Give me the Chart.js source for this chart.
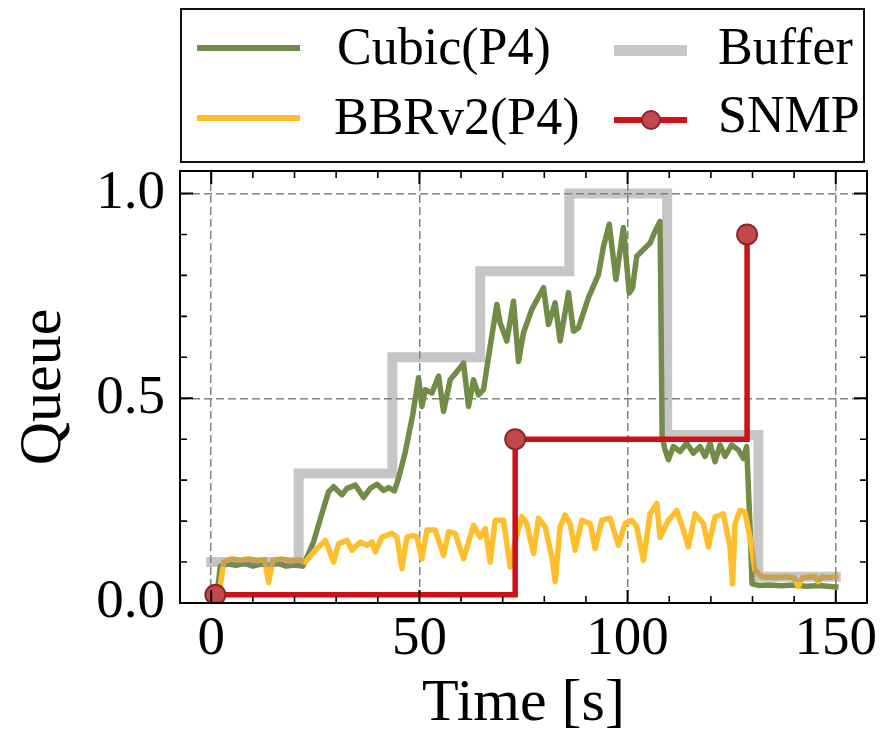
<!DOCTYPE html>
<html>
<head>
<meta charset="utf-8">
<script src="https://cdn.jsdelivr.net/npm/chart.js@4/dist/chart.umd.min.js"></script>
<style>
  html, body { margin: 0; padding: 0; background: #fff; }
  #wrap { position: relative; width: 887px; height: 736px; overflow: hidden; font-family: 'Liberation Serif', 'DejaVu Serif', serif; }
  #plot { position: absolute; left: 0; top: 0; }
  #legend { position: absolute; left: 180px; top: 8px; width: 685px; height: 155px; box-sizing: border-box; border: 2px solid #111; background: #fff; }
  .lg-line { position: absolute; }
  .lg-dot { position: absolute; box-sizing: border-box; border-radius: 50%; }
  .lg-text { position: absolute; font-size: 52px; line-height: 52px; color: #000; white-space: nowrap; }
</style>
</head>
<body>
<div id="wrap">
  <canvas id="plot" width="887" height="736"></canvas>
  <div id="legend"></div>
</div>
<script>
// Queue occupancy over time (normalised), per congestion control algorithm
const cubicTime = [1.5, 2.2, 4, 6, 8, 10, 12, 14, 16, 18, 20, 22, 23.4, 24.6, 26.6, 28.2, 29.4, 31.4, 32.6, 34.6, 36.6, 38.2, 39.8, 41.4, 42.6, 44, 45, 46.6, 48.4, 49.8, 50.6, 51.4, 53, 54.6, 55.8, 57.4, 59.4, 60.6, 61.8, 63, 64.2, 65.4, 67, 68.6, 69.4, 71, 72.6, 73.8, 75, 77, 79.8, 81, 82.6, 83.8, 85.8, 87, 88.2, 90.6, 93, 94.2, 95.6, 97.2, 99, 100.4, 101.2, 102.2, 103.8, 105.4, 106.6, 107.8, 108.3, 109, 109.8, 111, 112.6, 114.2, 115.8, 117.4, 118.6, 119.8, 121, 122.2, 123.4, 125, 126.6, 127.8, 128.6, 129.4, 129.9, 131.4, 134, 137, 140, 143, 146, 150];
const cubicQueue = [0.03, 0.09, 0.095, 0.092, 0.097, 0.09, 0.095, 0.092, 0.097, 0.09, 0.093, 0.09, 0.121, 0.15, 0.219, 0.272, 0.284, 0.264, 0.28, 0.288, 0.258, 0.28, 0.29, 0.275, 0.282, 0.274, 0.305, 0.368, 0.46, 0.55, 0.48, 0.521, 0.513, 0.554, 0.468, 0.545, 0.57, 0.586, 0.48, 0.545, 0.508, 0.521, 0.627, 0.729, 0.684, 0.64, 0.737, 0.59, 0.66, 0.717, 0.77, 0.68, 0.733, 0.64, 0.758, 0.664, 0.672, 0.746, 0.802, 0.87, 0.925, 0.79, 0.917, 0.757, 0.77, 0.847, 0.863, 0.879, 0.908, 0.932, 0.406, 0.374, 0.35, 0.382, 0.37, 0.39, 0.366, 0.382, 0.358, 0.39, 0.345, 0.386, 0.358, 0.386, 0.374, 0.353, 0.382, 0.186, 0.047, 0.043, 0.044, 0.042, 0.044, 0.041, 0.043, 0.039];

const bbrTime = [2, 3, 5, 7, 9, 11, 12.8, 13.8, 14.8, 17, 19, 21, 22.6, 25, 27.4, 29.4, 30.6, 32.6, 33.8, 35.8, 37.4, 38.6, 39.4, 41, 43.4, 44.6, 45.8, 47, 48.6, 49.4, 50.6, 51.8, 53.8, 55.8, 57, 58.6, 60.6, 63, 64.6, 65.8, 67, 68.2, 70.2, 71.8, 73, 74.6, 75.8, 77.4, 78.6, 80.2, 81.8, 82.6, 83.8, 85, 86.2, 87.4, 89, 91, 92.2, 93.8, 95.8, 97.8, 99.4, 101, 102.2, 103.8, 105.4, 107, 107.8, 109.8, 111.8, 113.4, 114.6, 116.2, 118.2, 119.4, 121, 123, 124.6, 125.2, 125.8, 127, 128.2, 129.4, 130.6, 132.2, 135, 138, 140, 141, 142, 145, 145.8, 146.6, 148, 150];
const bbrQueue = [0.03, 0.1, 0.108, 0.104, 0.108, 0.103, 0.106, 0.05, 0.104, 0.108, 0.102, 0.106, 0.1, 0.129, 0.153, 0.1, 0.145, 0.153, 0.129, 0.149, 0.141, 0.149, 0.125, 0.161, 0.17, 0.161, 0.084, 0.161, 0.165, 0.161, 0.108, 0.178, 0.178, 0.116, 0.174, 0.17, 0.108, 0.19, 0.161, 0.182, 0.1, 0.202, 0.202, 0.088, 0.15, 0.211, 0.194, 0.121, 0.207, 0.186, 0.113, 0.052, 0.186, 0.215, 0.194, 0.129, 0.202, 0.194, 0.133, 0.202, 0.207, 0.141, 0.194, 0.202, 0.186, 0.104, 0.218, 0.243, 0.16, 0.202, 0.226, 0.178, 0.137, 0.218, 0.194, 0.137, 0.21, 0.218, 0.137, 0.047, 0.194, 0.226, 0.222, 0.16, 0.08, 0.064, 0.062, 0.064, 0.062, 0.04, 0.062, 0.064, 0.052, 0.063, 0.062, 0.064];

// Configured buffer size, changed in steps
const bufferTime = [0, 21, 43.5, 64.6, 86, 109.5, 131.4, 150];
const bufferQueue = [0.1, 0.316, 0.6, 0.81, 1.0, 0.41, 0.064, 0.064];

// Sparse SNMP polling samples
const snmpTime = [1, 73, 128.7];
const snmpQueue = [0.02, 0.4, 0.9];

const seriesNames = ['Cubic(P4)', 'BBRv2(P4)', 'Buffer', 'SNMP'];
const xTickValues = [0, 50, 100, 150];
const yTickValues = [0, 0.5, 1.0];

const COLORS = {
  cubic: '#718c47',
  bbr: '#ffbe2b',
  buffer: 'rgba(128,128,128,0.45)',
  bufferSolid: '#c6c6c6',
  snmp: '#cf1018',
  snmpDot: '#c4474b',
  snmpDotEdge: '#8a282c'
};

const toXY = (xs, ys) => xs.map((x, i) => ({ x: x, y: ys[i] }));

// Matplotlib-style frame with inward ticks on all four sides
const frameTicks = {
  id: 'frameTicks',
  afterDraw(chart) {
    const { ctx, chartArea: a, scales: { x, y } } = chart;
    ctx.save();
    ctx.strokeStyle = '#000';
    ctx.lineCap = 'butt';
    const tick = (px, isX, len, w) => {
      ctx.lineWidth = w;
      ctx.beginPath();
      if (isX) {
        ctx.moveTo(px, a.bottom); ctx.lineTo(px, a.bottom - len);
        ctx.moveTo(px, a.top); ctx.lineTo(px, a.top + len);
      } else {
        ctx.moveTo(a.left, px); ctx.lineTo(a.left + len, px);
        ctx.moveTo(a.right, px); ctx.lineTo(a.right - len, px);
      }
      ctx.stroke();
    };
    for (let v = 0; v <= 150; v += 10) {
      const major = xTickValues.includes(v);
      tick(x.getPixelForValue(v), true, major ? 13 : 7, major ? 2 : 1.6);
    }
    for (let k = 0; k <= 10; k++) {
      const v = k / 10;
      const major = yTickValues.some(t => Math.abs(t - v) < 1e-9);
      tick(y.getPixelForValue(v), false, major ? 13 : 7, major ? 2 : 1.6);
    }
    ctx.lineWidth = 2;
    ctx.strokeRect(a.left, a.top, a.right - a.left, a.bottom - a.top);
    ctx.restore();
  }
};

const serif = "'Liberation Serif', 'DejaVu Serif', serif";

new Chart(document.getElementById('plot'), {
  type: 'line',
  data: {
    datasets: [
      {
        label: seriesNames[3],
        data: toXY(snmpTime, snmpQueue),
        borderColor: COLORS.snmp,
        borderWidth: 5.5,
        stepped: 'before',
        pointRadius: 10,
        pointBackgroundColor: COLORS.snmpDot,
        pointBorderColor: COLORS.snmpDotEdge,
        pointBorderWidth: 2,
        borderCapStyle: 'square',
        fill: false
      },
      {
        label: seriesNames[2],
        data: toXY(bufferTime, bufferQueue),
        borderColor: COLORS.buffer,
        borderWidth: 10,
        stepped: 'before',
        pointRadius: 0,
        borderCapStyle: 'square',
        borderJoinStyle: 'miter',
        fill: false
      },
      {
        label: seriesNames[1],
        data: toXY(bbrTime, bbrQueue),
        borderColor: COLORS.bbr,
        borderWidth: 5.5,
        pointRadius: 0,
        tension: 0,
        borderJoinStyle: 'round',
        borderCapStyle: 'square',
        fill: false
      },
      {
        label: seriesNames[0],
        data: toXY(cubicTime, cubicQueue),
        borderColor: COLORS.cubic,
        borderWidth: 5.5,
        pointRadius: 0,
        tension: 0,
        borderJoinStyle: 'round',
        borderCapStyle: 'square',
        fill: false
      }
    ]
  },
  options: {
    responsive: false,
    animation: false,
    devicePixelRatio: 1,
    layout: { padding: { left: 0, right: 20, top: 171, bottom: 0 } },
    plugins: { legend: { display: false }, tooltip: { enabled: false } },
    scales: {
      x: {
        type: 'linear',
        min: -7.5,
        max: 157.5,
        afterFit(s) { s.height = 133; },
        afterBuildTicks(s) { s.ticks = xTickValues.map(v => ({ value: v })); },
        ticks: {
          autoSkip: false, maxRotation: 0, padding: 9, color: '#000',
          font: { family: serif, size: 55, lineHeight: 1 },
          callback: v => String(v)
        },
        grid: { color: '#808080', lineWidth: 1.5, drawTicks: false },
        border: { display: false, dash: [8, 4] },
        title: {
          display: true, text: 'Time [s]', color: '#000',
          font: { family: serif, size: 60, lineHeight: 1 },
          padding: { top: 0, bottom: 2 }
        }
      },
      y: {
        type: 'linear',
        min: 0,
        max: 1.055,
        afterFit(s) { s.width = 180; },
        afterBuildTicks(s) { s.ticks = yTickValues.map(v => ({ value: v })); },
        ticks: {
          autoSkip: false, padding: 15, color: '#000',
          font: { family: serif, size: 55, lineHeight: 1 },
          callback: v => Number(v).toFixed(1)
        },
        grid: { color: '#808080', lineWidth: 1.5, drawTicks: false },
        border: { display: false, dash: [8, 4] },
        title: {
          display: true, text: 'Queue', color: '#000',
          font: { family: serif, size: 60, lineHeight: 1 },
          padding: { top: 14, bottom: 0 }
        }
      }
    }
  },
  plugins: [frameTicks]
});

// Two-column legend box above the axes
(function buildLegend() {
  const box = document.getElementById('legend');
  const add = (cls, css, text) => {
    const el = document.createElement('div');
    el.className = cls;
    Object.assign(el.style, css);
    if (text) el.textContent = text;
    box.appendChild(el);
  };
  add('lg-line', { left: '15px', top: '35px', width: '103px', height: '5.5px', background: COLORS.cubic });
  add('lg-text', { left: '155px', top: '11px' }, seriesNames[0]);
  add('lg-line', { left: '15px', top: '105px', width: '103px', height: '5.5px', background: COLORS.bbr });
  add('lg-text', { left: '152px', top: '81px' }, seriesNames[1]);
  add('lg-line', { left: '432px', top: '35px', width: '73px', height: '11px', background: COLORS.bufferSolid });
  add('lg-text', { left: '536px', top: '11px' }, seriesNames[2]);
  add('lg-line', { left: '432px', top: '107px', width: '73px', height: '5.5px', background: COLORS.snmp });
  add('lg-dot', { left: '459px', top: '99.5px', width: '20px', height: '20px', background: COLORS.snmpDot, border: '2px solid ' + COLORS.snmpDotEdge });
  add('lg-text', { left: '536px', top: '79px' }, seriesNames[3]);
})();
</script>
</body>
</html>
